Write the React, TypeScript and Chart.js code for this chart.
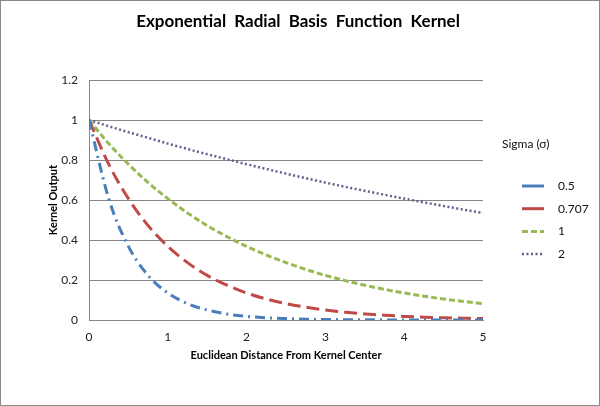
import React, { useEffect, useRef } from "react";
import { Chart, registerables } from "chart.js";

Chart.register(...registerables);

const xValues = [0, 0.25, 0.5, 0.75, 1, 1.25, 1.5, 1.75, 2, 2.25, 2.5, 2.75, 3, 3.25, 3.5, 3.75, 4, 4.25, 4.5, 4.75, 5];
const sigmaLabels = ["0.5", "0.707", "1", "2"];
const sigma05 = [1, 0.607, 0.368, 0.223, 0.135, 0.082, 0.05, 0.03, 0.018, 0.011, 0.007, 0.004, 0.0025, 0.0015, 0.0009, 0.0006, 0.0003, 0.0002, 0.0001, 0.0001, 0];
const sigma0707 = [1, 0.779, 0.607, 0.472, 0.368, 0.287, 0.223, 0.174, 0.135, 0.105, 0.082, 0.064, 0.05, 0.039, 0.03, 0.024, 0.018, 0.014, 0.011, 0.009, 0.007];
const sigma1 = [1, 0.882, 0.779, 0.687, 0.607, 0.535, 0.472, 0.417, 0.368, 0.325, 0.287, 0.253, 0.223, 0.197, 0.174, 0.153, 0.135, 0.119, 0.105, 0.093, 0.082];
const sigma2 = [1, 0.969, 0.939, 0.911, 0.882, 0.855, 0.829, 0.804, 0.779, 0.755, 0.732, 0.709, 0.687, 0.666, 0.646, 0.626, 0.607, 0.588, 0.57, 0.552, 0.535];
const xTicks = [0, 1, 2, 3, 4, 5];
const yTicks = [0, 0.2, 0.4, 0.6, 0.8, 1, 1.2];

const chartTitle = "Exponential Radial Basis Function Kernel";
const xTitle = "Euclidean Distance From Kernel Center";
const yTitle = "Kernel Output";
const legendTitle = "Sigma (\u03c3)";

const FONT = "Lato, 'Noto Sans', sans-serif";

const toPoints = (ys: number[]) => xValues.map((x, i) => ({ x, y: ys[i] }));

export default function App() {
  const ref = useRef<HTMLCanvasElement | null>(null);

  useEffect(() => {
    document.body.style.margin = "0";
    const canvas = ref.current;
    if (!canvas) return;

    const series = [
      { label: sigmaLabels[0], data: sigma05, color: "#4a7ebb", dash: [10, 5, 2, 5], width: 3, legendDash: [] as number[] },
      { label: sigmaLabels[1], data: sigma0707, color: "#be4b48", dash: [13, 6], width: 3, legendDash: [] as number[] },
      { label: sigmaLabels[2], data: sigma1, color: "#98b954", dash: [6, 3], width: 3, legendDash: [6, 3] },
      { label: sigmaLabels[3], data: sigma2, color: "#625f8c", dash: [2, 2.5], width: 2.5, legendDash: [2, 2.5] },
    ];

    const framePlugin = {
      id: "frame",
      beforeDraw(chart: any) {
        const c = chart.ctx;
        c.save();
        c.fillStyle = "#ffffff";
        c.fillRect(0, 0, chart.width, chart.height);
        c.restore();
      },
      afterDraw(chart: any) {
        const c = chart.ctx;
        c.save();
        c.strokeStyle = "#8a8a8a";
        c.lineWidth = 1;
        c.strokeRect(0.5, 0.5, chart.width - 1, chart.height - 1);
        // title
        c.fillStyle = "#000000";
        c.font = `bold 17px ${FONT}`;
        c.textAlign = "center";
        c.textBaseline = "middle";
        try { (c as any).wordSpacing = "4px"; } catch (e) {}
        c.fillText(chartTitle, 298, 22);
        try { (c as any).wordSpacing = "0px"; } catch (e) {}
        // legend
        c.font = `12px ${FONT}`;
        c.textAlign = "left";
        c.fillStyle = "#111111";
        c.fillText(legendTitle, 502, 144);
        series.forEach((s, i) => {
          const y = 186 + i * 22.7;
          c.beginPath();
          c.strokeStyle = s.color;
          c.lineWidth = s.width;
          c.setLineDash(s.legendDash);
          c.moveTo(522, y);
          c.lineTo(544, y);
          c.stroke();
          c.setLineDash([]);
          c.fillStyle = "#111111";
          c.fillText(s.label, 558, y);
        });
        c.restore();
      },
    };

    const chart = new Chart(canvas, {
      type: "scatter",
      data: {
        datasets: series.map((s) => ({
          label: s.label,
          data: toPoints(s.data),
          showLine: true,
          borderColor: s.color,
          backgroundColor: s.color,
          borderWidth: s.width,
          borderDash: s.dash,
          pointRadius: 0,
          pointHoverRadius: 0,
          cubicInterpolationMode: "monotone" as const,
          fill: false,
        })),
      },
      options: {
        animation: false,
        responsive: false,
        devicePixelRatio: 1,
        layout: { padding: { top: 80, right: 117, bottom: 0, left: 0 } },
        plugins: {
          legend: { display: false },
          title: { display: false },
          tooltip: { enabled: false },
        },
        scales: {
          x: {
            type: "linear",
            min: 0,
            max: 5,
            afterFit: (scale: any) => {
              scale.height = 86;
            },
            afterBuildTicks: (scale: any) => {
              scale.ticks = xTicks.map((v) => ({ value: v }));
            },
            grid: { display: false, drawTicks: false },
            border: { display: true, color: "#868686", width: 1 },
            ticks: { padding: 10, color: "#222222", font: { family: FONT, size: 12 } },
            title: {
              display: true,
              text: xTitle,
              color: "#000000",
              font: { family: FONT, size: 11, weight: "bold" },
              padding: { top: 4, bottom: 44 },
            },
          },
          y: {
            type: "linear",
            min: 0,
            max: 1.2,
            afterFit: (scale: any) => {
              scale.width = 89;
            },
            afterBuildTicks: (scale: any) => {
              scale.ticks = yTicks.map((v) => ({ value: v }));
            },
            grid: { color: "#868686", lineWidth: 1, drawTicks: false },
            border: { display: true, color: "#868686", width: 1 },
            ticks: {
              padding: 11,
              color: "#222222",
              font: { family: FONT, size: 12 },
              callback: (v: any) => String(Math.round(Number(v) * 10) / 10),
            },
            title: {
              display: true,
              text: yTitle,
              color: "#000000",
              font: { family: FONT, size: 11, weight: "bold" },
              padding: { top: 47, bottom: 4 },
            },
          },
        },
      },
      plugins: [framePlugin],
    } as any);

    return () => chart.destroy();
  }, []);

  return (
    <div style={{ width: 600, height: 406 }}>
      <canvas ref={ref} width={600} height={406} style={{ display: "block" }} />
    </div>
  );
}
